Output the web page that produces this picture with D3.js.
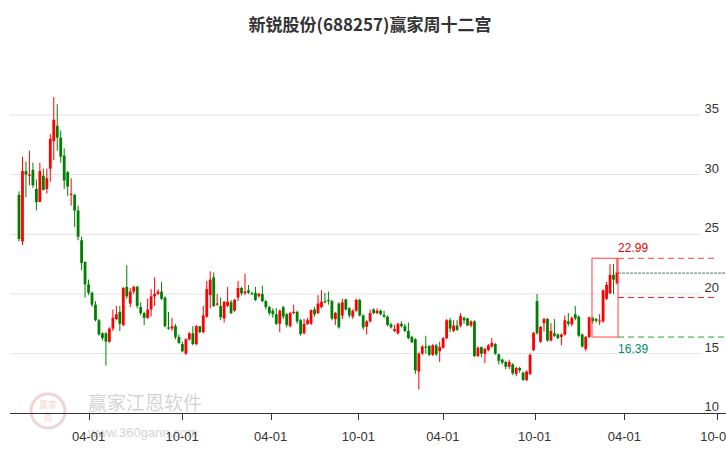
<!DOCTYPE html>
<html><head><meta charset="utf-8">
<script src="https://cdn.jsdelivr.net/npm/d3@7/dist/d3.min.js"></script>
<style>body{margin:0;background:#fff}svg{display:block}</style></head>
<body><svg id="c" width="726" height="450"></svg>
<script>
const title = "新锐股份(688257)赢家周十二宫";
// [open, close, high, low] per weekly candle
const candles = [
[28.3,24.6,28.6,24.4],[24.4,30.3,31.5,24.1],[30.3,30.0,31.1,28.1],[29.9,30.0,32.0,29.1],[30.4,29.1,31.0,28.9],
[28.8,27.7,29.6,27.0],[27.7,30.3,31.0,27.7],[29.9,28.7,30.5,28.7],[28.8,29.7,30.5,28.4],[30.5,33.0,33.4,29.4],
[32.8,34.6,36.5,31.2],[34.1,33.1,35.9,32.0],[33.1,31.5,33.7,31.0],[31.6,29.5,32.2,28.8],[30.2,29.0,30.3,28.2],
[28.3,28.4,29.7,27.4],[28.3,27.0,28.4,25.6],[27.0,24.8,27.4,24.5],[24.5,22.6,24.8,22.0],[22.7,20.8,22.7,19.7],
[20.8,20.1,21.2,19.9],[20.1,19.1,20.2,18.9],[19.1,17.8,19.4,17.7],[17.8,16.6,17.9,16.5],[16.7,16.3,16.8,16.1],
[16.7,16.0,16.8,14.0],[16.0,17.1,17.2,15.9],[17.1,18.0,18.7,16.9],[17.9,18.3,19.0,17.8],[18.5,17.5,19.0,16.9],
[17.4,20.5,20.6,17.3],[20.6,19.8,22.4,19.6],[19.2,20.2,20.5,18.9],[20.2,20.6,20.7,20.0],[20.6,19.0,20.7,18.8],
[18.9,18.4,19.3,18.2],[18.4,18.0,18.5,17.4],[18.0,18.7,19.6,17.9],[18.7,19.8,20.4,18.1],[19.8,20.0,21.4,19.0],
[20.0,20.2,20.4,19.9],[20.2,19.6,21.0,19.5],[19.7,17.3,19.8,17.2],[17.2,17.1,18.5,17.0],[17.1,17.3,18.0,16.9],
[17.3,16.4,17.5,16.2],[16.4,15.9,16.6,15.8],[15.8,15.2,16.0,15.1],[15.0,16.2,16.3,14.9],[16.2,16.7,16.8,16.1],
[16.7,15.8,17.3,15.7],[15.8,17.3,17.4,15.7],[17.3,16.8,17.3,16.7],[16.8,18.2,19.0,16.7],[18.1,20.4,21.1,18.0],
[19.9,21.2,21.9,18.8],[21.4,19.0,21.8,18.9],[19.1,19.2,20.0,19.0],[19.0,18.05,19.7,17.8],[17.95,19.35,19.4,17.6],
[19.0,19.35,20.6,18.9],[19.3,18.4,19.5,18.3],[18.6,19.5,19.6,18.5],[19.7,20.5,21.1,19.4],[20.5,20.05,20.6,19.9],
[20.05,20.2,21.7,19.9],[20.3,20.1,20.75,20.0],[20.05,20.0,20.2,19.9],[20.1,19.5,20.6,19.4],[19.8,20.0,20.1,19.7],
[20.0,19.4,20.7,19.3],[19.4,18.9,19.5,18.7],[18.9,18.4,19.0,18.2],[18.6,18.3,18.8,18.0],[18.3,17.5,18.8,17.4],
[17.5,18.6,18.7,16.8],[18.9,18.1,19.0,17.9],[18.3,17.4,18.4,17.2],[17.3,18.4,18.5,17.2],[18.4,18.5,19.1,18.3],
[18.5,17.7,18.6,17.5],[17.8,16.65,17.9,16.5],[16.7,17.5,17.9,16.6],[17.5,17.8,18.0,17.4],[17.5,18.65,18.7,17.4],
[18.7,18.3,18.9,18.1],[18.4,19.2,19.9,18.3],[18.9,19.35,20.3,18.8],[19.4,19.3,20.1,19.2],[19.5,19.45,20.2,19.1],
[19.4,17.95,19.5,17.8],[17.9,18.4,18.5,17.4],[19.2,17.2,19.3,17.1],[18.2,19.3,19.6,17.9],[19.55,18.7,19.6,18.6],
[18.8,18.2,18.9,18.0],[18.1,18.6,18.7,17.9],[18.6,19.5,19.6,18.5],[19.5,18.2,19.6,18.1],[18.2,17.2,18.3,17.0],
[17.25,17.7,17.8,16.6],[17.7,18.4,18.7,17.6],[18.7,18.4,18.8,18.3],[18.4,18.6,18.8,18.3],[18.6,18.3,18.7,18.2],
[18.25,18.1,18.6,18.0],[18.1,17.4,18.2,17.3],[17.45,17.2,17.6,17.1],[16.9,17.05,17.4,16.8],[16.7,17.5,17.6,16.6],
[17.5,17.3,17.7,17.2],[17.3,16.9,17.5,16.8],[16.9,16.3,17.6,16.2],[16.4,15.95,16.5,15.9],[16.2,13.6,16.3,13.3],
[13.5,15.0,15.1,12.0],[15.0,15.6,15.7,14.9],[15.6,15.5,16.5,15.0],[15.65,14.9,15.7,14.8],[14.9,15.7,15.8,14.8],
[15.7,14.95,15.8,14.8],[15.2,15.55,16.0,14.3],[15.5,16.3,16.4,15.4],[16.3,17.8,17.9,16.2],[17.8,17.1,18.0,16.8],
[16.9,17.35,17.8,16.8],[17.35,17.0,17.8,16.9],[17.35,18.15,18.4,17.2],[18.0,17.8,18.1,17.5],[17.95,17.35,18.0,17.3],
[17.35,17.7,17.8,17.2],[17.7,14.8,17.8,14.7],[14.8,15.5,15.6,14.7],[15.55,15.0,15.6,14.7],[15.0,15.4,15.5,14.2],
[15.3,15.7,15.8,15.2],[15.6,15.9,16.3,15.5],[15.8,15.0,15.9,14.9],[14.95,14.4,15.0,14.1],[14.5,14.25,14.6,14.1],
[14.3,13.9,14.4,13.7],[13.9,14.3,14.5,13.7],[14.1,13.35,14.2,13.2],[13.3,13.8,13.9,13.1],[13.8,13.6,13.9,13.4],
[13.4,12.8,13.5,12.7],[12.8,13.5,13.6,12.7],[13.3,14.9,15.0,13.2],[15.3,16.75,16.8,15.2],[19.4,16.7,20.0,16.6],
[16.0,17.25,17.3,15.9],[17.55,17.9,18.0,16.85],[17.9,16.1,18.0,16.0],[16.1,16.9,17.55,16.0],[16.7,16.5,17.9,16.4],
[16.6,16.3,16.7,16.2],[16.4,16.6,16.7,15.7],[16.6,17.8,18.2,16.5],[17.7,17.5,18.4,17.3],[17.45,18.0,18.1,17.3],
[18.3,17.95,19.0,17.8],[18.1,16.5,18.2,16.4],[16.6,15.6,16.7,15.5],[15.4,16.4,16.5,15.2],[16.4,18.05,18.1,16.3],
[18.0,17.7,18.1,17.5],[17.9,17.75,18.0,17.6],[17.75,17.77,18.3,17.4],[17.7,20.3,20.4,17.6],[19.6,20.75,21.0,19.5],
[20.05,21.6,22.5,20.0],[21.6,21.2,22.5,20.0],[20.9,21.8,22.99,20.8]
];
const yTicks = [10,15,20,25,30,35];
const xTickLabels = ["04-01","10-01","04-01","10-01","04-01","10-01","04-01","10-01"];
const xTickIdx = [20.0,46.9,72.4,97.6,121.9,148.3,174.1,200.7];
const boxIdx = [164.8,172.3];
const boxHigh = 22.99, boxLow = 16.39;
const midLines = [21.75, 19.7];

const svg = d3.select("#c");
const x = d3.scaleLinear().domain([0, candles.length-1]).range([19, 617]);
const y = d3.scaleLinear().domain([10, 25]).range([413.3, 234.3]);
const RED="#ff0000", GREEN="#008000";

svg.append("text").attr("x",370).attr("y",31).attr("text-anchor","middle")
  .attr("font-family","Noto Sans CJK SC").attr("font-size",17).attr("font-weight","bold").attr("fill","#333").text(title);

svg.selectAll(".g").data(yTicks.filter(v=>v>10)).enter().append("line")
  .attr("x1",10).attr("x2",700).attr("y1",d=>y(d)).attr("y2",d=>y(d)).attr("stroke","#e3e3e3").attr("stroke-width",1);
svg.selectAll(".yl").data(yTicks).enter().append("text")
  .attr("x",719).attr("y",d=>y(d)-2).attr("text-anchor","end")
  .attr("font-family","Liberation Sans, Arial").attr("font-size",13).attr("fill","#333").text(d=>d);

const wm = svg.append("g").attr("opacity",0.28);
wm.append("circle").attr("cx",48).attr("cy",411).attr("r",17).attr("fill","none").attr("stroke","#c66").attr("stroke-width",3);
wm.append("text").attr("x",48).attr("y",408).attr("text-anchor","middle").attr("font-size",9).attr("fill","#c66").attr("font-family","Noto Sans CJK SC").text("赢家");
wm.append("text").attr("x",48).attr("y",420).attr("text-anchor","middle").attr("font-size",9).attr("fill","#c66").attr("font-family","Noto Sans CJK SC").text("恩");
wm.append("text").attr("x",88).attr("y",410).attr("font-size",19).attr("fill","#666").attr("font-family","Noto Sans CJK SC").text("赢家江恩软件");
wm.append("text").attr("x",88).attr("y",437).attr("font-size",13).attr("fill","#666").attr("font-family","Liberation Sans").text("www.360gann.com");

svg.append("line").attr("x1",10).attr("x2",726).attr("y1",413.5).attr("y2",413.5).attr("stroke","#333");
const xt = svg.selectAll(".xt").data(xTickIdx).enter().append("g");
xt.append("line").attr("x1",d=>Math.round(x(d))+0.5).attr("x2",d=>Math.round(x(d))+0.5).attr("y1",413).attr("y2",420).attr("stroke","#333");
xt.append("text").attr("x",d=>x(d)).attr("y",441).attr("text-anchor","middle")
  .attr("font-family","Liberation Sans, Arial").attr("font-size",13).attr("fill","#333").text((d,i)=>xTickLabels[i]);

const cg = svg.selectAll(".c").data(candles).enter().append("g");
cg.append("line").attr("x1",(d,i)=>x(i)).attr("x2",(d,i)=>x(i)).attr("y1",d=>y(d[2])).attr("y2",d=>y(d[3]))
  .attr("stroke",d=>d[1]>=d[0]?RED:GREEN).attr("stroke-width",1);
cg.append("rect").attr("x",(d,i)=>x(i)-1.4).attr("width",2.8)
  .attr("y",d=>y(Math.max(d[0],d[1]))).attr("height",d=>Math.max(1,Math.abs(y(d[0])-y(d[1]))))
  .attr("fill",d=>d[1]>=d[0]?RED:GREEN);

const bx1=x(boxIdx[0]), bx2=x(boxIdx[1]);
svg.append("rect").attr("x",bx1).attr("y",y(boxHigh)).attr("width",bx2-bx1).attr("height",y(boxLow)-y(boxHigh))
  .attr("fill","none").attr("stroke","#f55").attr("stroke-width",1.3).attr("opacity",0.85);
svg.append("line").attr("x1",bx2).attr("x2",718).attr("y1",y(boxHigh)).attr("y2",y(boxHigh)).attr("stroke","#f66").attr("stroke-dasharray","6,4").attr("stroke-width",1.3);
svg.append("line").attr("x1",bx2).attr("x2",726).attr("y1",y(midLines[0])).attr("y2",y(midLines[0])).attr("stroke","#254").attr("stroke-dasharray","3,1").attr("stroke-width",0.8);
svg.append("line").attr("x1",bx2).attr("x2",718).attr("y1",y(midLines[1])).attr("y2",y(midLines[1])).attr("stroke","#f22").attr("stroke-dasharray","6,4").attr("stroke-width",1.1);
svg.append("line").attr("x1",bx2).attr("x2",726).attr("y1",y(boxLow)).attr("y2",y(boxLow)).attr("stroke","#2a2").attr("stroke-dasharray","6,4").attr("stroke-width",1);
svg.append("text").attr("x",bx2).attr("y",y(boxHigh)-6).attr("font-family","Liberation Sans, Arial").attr("font-size",12).attr("fill","#e00").text(boxHigh.toFixed(2));
svg.append("text").attr("x",bx2).attr("y",y(boxLow)+16).attr("font-family","Liberation Sans, Arial").attr("font-size",12).attr("fill","#087").text(boxLow.toFixed(2));
</script></body></html>
